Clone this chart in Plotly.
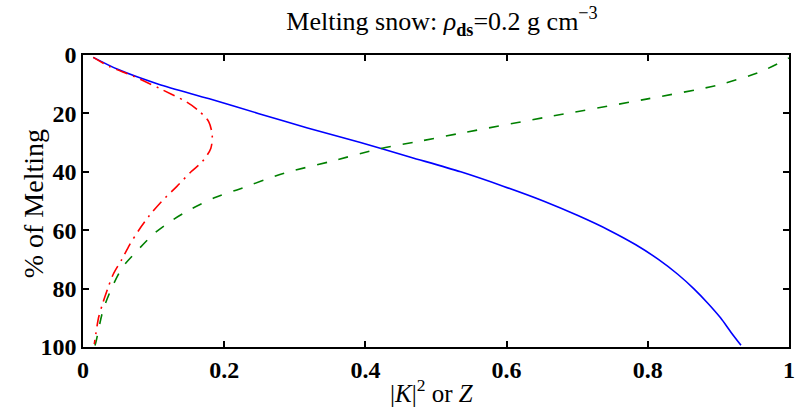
import plotly.graph_objects as go

# Percent of melting (y) and corresponding |K|^2 / Z values (x)
blue_y = [0.8, 5, 10, 15, 20, 25, 30, 35, 40, 45, 50, 55, 60, 65, 70, 75, 80, 85, 90, 95, 99.4]
blue_x = [0.0145, 0.050, 0.107, 0.179, 0.248, 0.318, 0.393, 0.464, 0.535, 0.596, 0.652,
          0.701, 0.745, 0.783, 0.815, 0.842, 0.865, 0.885, 0.903, 0.918, 0.932]

green_y = [99.5, 97.6, 87.3, 78.8, 72.5, 66.8, 61.1, 56.5, 52.5, 48.7, 46.2, 40.5, 36.5,
           32.0, 29.7, 26.6, 21.3, 15.2, 10.3, 5.7, 1.0]
green_x = [0.017, 0.019, 0.0285, 0.0426, 0.0566, 0.0777, 0.101, 0.127, 0.155, 0.188, 0.218,
           0.285, 0.350, 0.422, 0.473, 0.539, 0.656, 0.796, 0.899, 0.960, 1.0]

red_y = [0.8, 4.0, 7.2, 11.4, 16.0, 19.1, 22.8, 27.4, 32.0, 36.5, 40, 45, 50, 55, 60, 65,
         70, 75, 80, 85, 90, 95, 99.0]
red_x = [0.0145, 0.038, 0.071, 0.108, 0.146, 0.164, 0.178, 0.183, 0.181, 0.169, 0.153, 0.133,
         0.112, 0.094, 0.079, 0.066, 0.055, 0.043, 0.035, 0.028, 0.022, 0.0185, 0.016]

x_ticks = [0, 0.2, 0.4, 0.6, 0.8, 1]
x_ticktext = ["0", "0.2", "0.4", "0.6", "0.8", "1"]
y_ticks = [0, 20, 40, 60, 80, 100]
y_ticktext = ["0", "20", "40", "60", "80", "100"]

FONT = "Liberation Serif"

fig = go.Figure()
fig.add_trace(go.Scatter(x=blue_x, y=blue_y, mode="lines",
                         line=dict(color="#0000ff", width=1.6, shape="spline", smoothing=0.8),
                         showlegend=False))
fig.add_trace(go.Scatter(x=green_x, y=green_y, mode="lines",
                         line=dict(color="#008000", width=1.6, dash="10px,12px", shape="spline", smoothing=0.8),
                         showlegend=False))
fig.add_trace(go.Scatter(x=red_x, y=red_y, mode="lines",
                         line=dict(color="#ff0000", width=1.6, dash="12px,6px,2px,6px", shape="spline", smoothing=0.8),
                         showlegend=False))

axis_common = dict(showgrid=False, zeroline=False, showline=True, mirror="allticks",
                   linecolor="black", linewidth=1.5, ticks="inside", ticklen=6,
                   tickcolor="black", tickwidth=1.5, ticklabeloverflow="allow",
                   tickfont=dict(family=FONT, size=24, color="black", weight="bold"))

fig.update_layout(
    width=798, height=409,
    margin=dict(l=83, r=3, t=55, b=62),
    paper_bgcolor="white", plot_bgcolor="white",
    font=dict(family=FONT, color="black", size=24),
    title=dict(text="Melting snow: <i>ρ</i><sub><b>ds</b></sub>=0.2 g cm<sup>−3</sup>",
               x=442 / 798, xanchor="center", y=1 - 21 / 409, yanchor="middle",
               font=dict(family=FONT, size=26, color="black")),
    xaxis=dict(range=[0, 1], tickvals=x_ticks, ticktext=x_ticktext, **axis_common),
    yaxis=dict(range=[100, 0], tickvals=y_ticks, ticktext=y_ticktext, **axis_common),
    annotations=[
        dict(text="|<i>K</i>|<sup>2</sup> or <i>Z</i>", xref="paper", yref="paper",
             x=0.495, y=(347 - 391) / 292, xanchor="center", yanchor="middle", showarrow=False,
             font=dict(family=FONT, size=25, color="black")),
        dict(text="% of Melting", xref="paper", yref="paper",
             x=(33 - 83) / 712, y=0.49, xanchor="center", yanchor="middle", showarrow=False, textangle=-90,
             font=dict(family=FONT, size=28, color="black")),
    ],
)

fig.write_html("out.html")
